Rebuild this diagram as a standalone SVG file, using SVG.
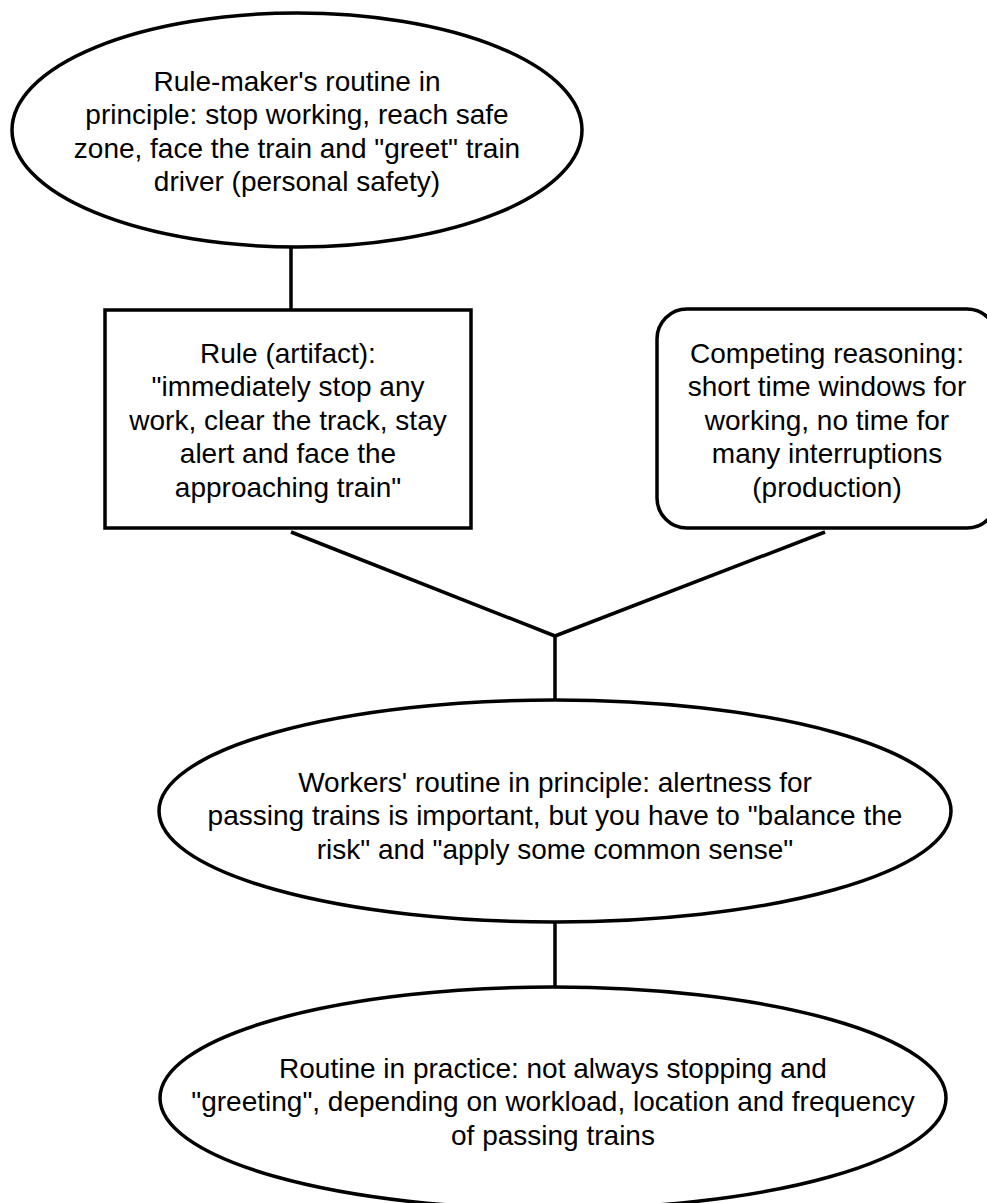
<svg xmlns="http://www.w3.org/2000/svg" width="987" height="1203" viewBox="0 0 987 1203">
<style>
.shape{fill:#fff;stroke:#000;stroke-width:3.5}
.conn{fill:none;stroke:#000;stroke-width:3.5}
text{font-family:"Liberation Sans",Arial,sans-serif;font-size:28px;fill:#000;text-anchor:middle}
</style>
<rect width="987" height="1203" fill="#fff"/>
<g id="connectors">
<line class="conn" x1="291" y1="247" x2="291" y2="310"/>
<line class="conn" x1="291" y1="532" x2="555" y2="636"/>
<line class="conn" x1="825" y1="532" x2="555" y2="636"/>
<line class="conn" x1="555" y1="636" x2="555" y2="700"/>
<line class="conn" x1="555" y1="922" x2="555" y2="987"/>
</g>
<g id="rulemaker">
<ellipse class="shape" cx="297" cy="130" rx="285" ry="117"/>
<text x="297" y="91">Rule-maker's routine in</text>
<text x="297" y="124">principle: stop working, reach safe</text>
<text x="297" y="158">zone, face the train and "greet" train</text>
<text x="297" y="191">driver (personal safety)</text>
</g>
<g id="rule">
<rect class="shape" x="105" y="310" width="366" height="218"/>
<text x="288" y="363">Rule (artifact):</text>
<text x="288" y="396">"immediately stop any</text>
<text x="288" y="430">work, clear the track, stay</text>
<text x="288" y="463">alert and face the</text>
<text x="288" y="497">approaching train"</text>
</g>
<g id="competing">
<rect class="shape" x="657" y="309" width="340" height="219" rx="30" ry="30"/>
<text x="827" y="363">Competing reasoning:</text>
<text x="827" y="396">short time windows for</text>
<text x="827" y="430">working, no time for</text>
<text x="827" y="463">many interruptions</text>
<text x="827" y="497">(production)</text>
</g>
<g id="workers">
<ellipse class="shape" cx="555" cy="811" rx="396" ry="111"/>
<text x="555" y="792">Workers' routine in principle: alertness for</text>
<text x="555" y="825">passing trains is important, but you have to "balance the</text>
<text x="555" y="859">risk" and "apply some common sense"</text>
</g>
<g id="practice">
<ellipse class="shape" cx="553" cy="1098" rx="393" ry="111"/>
<text x="553" y="1078">Routine in practice: not always stopping and</text>
<text x="553" y="1111">"greeting", depending on workload, location and frequency</text>
<text x="553" y="1145">of passing trains</text>
</g>
</svg>
